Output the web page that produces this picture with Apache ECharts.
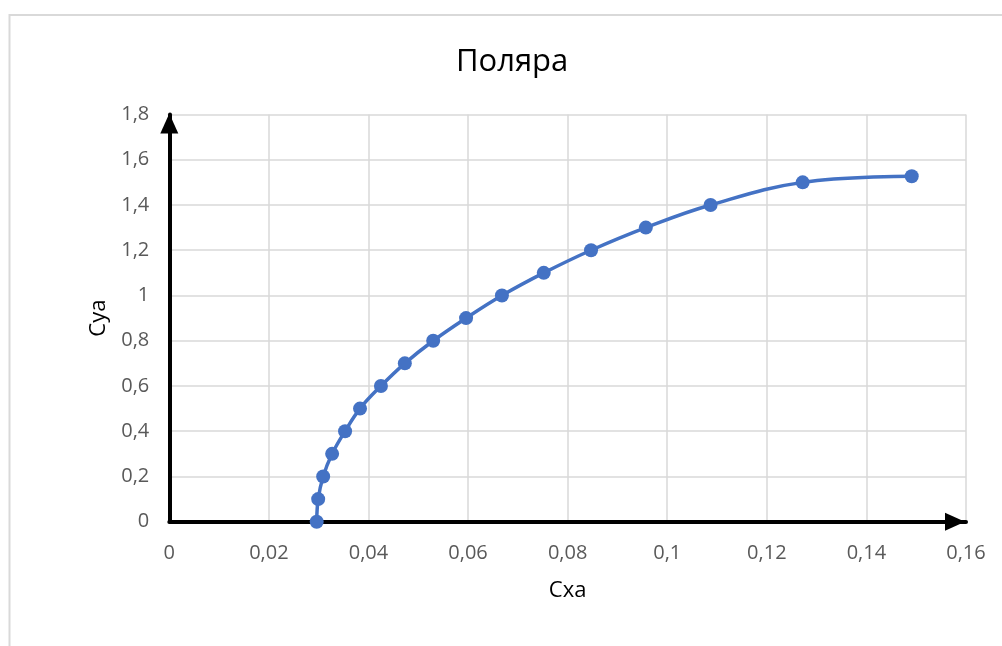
<!DOCTYPE html>
<html>
<head>
<meta charset="utf-8">
<script src="https://cdn.jsdelivr.net/npm/echarts@6/dist/echarts.min.js"></script>
<style>
html,body{margin:0;padding:0;background:#fff;}
#chart{width:1002px;height:646px;}
</style>
</head>
<body>
<div id="chart"></div>
<script>
// Data
var cxa = [0.0296, 0.0299, 0.0309, 0.0327, 0.0353, 0.0383, 0.0425, 0.0473, 0.0530, 0.0596, 0.0668, 0.0752, 0.0847, 0.0957, 0.1087, 0.1272, 0.1491];
var cya = [0, 0.1, 0.2, 0.3, 0.4, 0.5, 0.6, 0.7, 0.8, 0.9, 1.0, 1.1, 1.2, 1.3, 1.4, 1.5, 1.527];
var xTickLabels = ['0', '0,02', '0,04', '0,06', '0,08', '0,1', '0,12', '0,14', '0,16'];
var yTickLabels = ['0', '0,2', '0,4', '0,6', '0,8', '1', '1,2', '1,4', '1,6', '1,8'];
var titleText = 'Поляра';
var xName = 'Cxa';
var yName = 'Cya';

var points = cxa.map(function (x, i) { return [x, cya[i]]; });
var FONT = '"Open Sans", sans-serif';

var chart = echarts.init(document.getElementById('chart'), null, {renderer: 'canvas'});
chart.setOption({
  animation: false,
  backgroundColor: '#ffffff',
  graphic: [{
    type: 'rect',
    silent: true,
    z: -10,
    shape: {x: 9.5, y: 15, width: 1200, height: 1000},
    style: {fill: 'none', stroke: '#d9d9d9', lineWidth: 2}
  }],
  title: {
    text: titleText,
    left: 451,
    top: 42,
    textStyle: {fontFamily: FONT, fontSize: 31, fontWeight: 'normal', color: '#000000'}
  },
  grid: {left: 169.3, right: 36, top: 114.5, bottom: 124.3, containLabel: false},
  xAxis: {
    type: 'value',
    min: 0, max: 0.16, interval: 0.02,
    name: xName,
    nameLocation: 'middle',
    nameGap: 58,
    nameTextStyle: {fontFamily: FONT, fontSize: 22, color: '#000000'},
    axisLine: {show: true, onZero: false, lineStyle: {color: '#000000', width: 4},
      symbol: ['none', 'triangle'], symbolSize: [18, 20], symbolOffset: [0, -11]},
    axisTick: {show: false},
    axisLabel: {margin: 22, fontFamily: FONT, fontSize: 20, color: '#595959',
      formatter: function (v) { return xTickLabels[Math.round(v / 0.02)]; }},
    splitLine: {show: true, lineStyle: {color: '#d9d9d9', width: 1.5}}
  },
  yAxis: {
    type: 'value',
    min: 0, max: 1.8, interval: 0.2,
    name: yName,
    nameLocation: 'middle',
    nameGap: 60,
    nameRotate: 90,
    nameTextStyle: {fontFamily: FONT, fontSize: 22, color: '#000000'},
    axisLine: {show: true, onZero: false, lineStyle: {color: '#000000', width: 4},
      symbol: ['none', 'triangle'], symbolSize: [18, 20], symbolOffset: [0, -9]},
    axisTick: {show: false},
    axisLabel: {margin: 20, fontFamily: FONT, fontSize: 20, color: '#595959',
      formatter: function (v) { return yTickLabels[Math.round(v / 0.2)]; }},
    splitLine: {show: true, lineStyle: {color: '#d9d9d9', width: 1.5}}
  },
  series: [{
    type: 'line',
    data: points,
    smooth: 0.4,
    symbol: 'circle',
    symbolSize: 14,
    showSymbol: true,
    lineStyle: {color: '#4472c4', width: 3.5},
    itemStyle: {color: '#4472c4'},
    z: 5
  }]
});
</script>
</body>
</html>
